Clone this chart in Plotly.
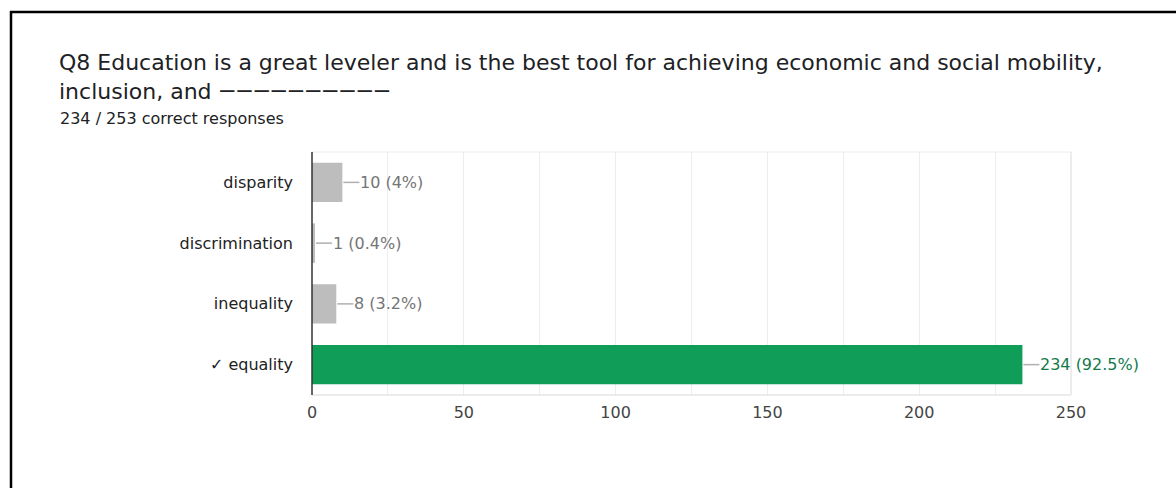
import plotly.graph_objects as go

# Survey answer counts for Q8
categories = ["disparity", "discrimination", "inequality", "✓ equality"]
counts = [10, 1, 8, 234]
percent_labels = ["10 (4%)", "1 (0.4%)", "8 (3.2%)", "234 (92.5%)"]
is_correct = [False, False, False, True]
x_ticks = [0, 50, 100, 150, 200, 250]

W, H = 1176, 488
GREEN = "#0f9d58"
GRAY_BAR = "#bdbdbd"
CHART_FONT = "DejaVu Sans, Liberation Sans, Arial, sans-serif"
TITLE_FONT = "DejaVu Sans, Roboto, sans-serif"

# plot area in pixels
px_left, px_right = 312, 1071
px_top, px_bottom = 152, 395


def px(x):
    return x / W


def py(y):
    return 1 - y / H


bar_colors = [GREEN if c else GRAY_BAR for c in is_correct]

fig = go.Figure(
    go.Bar(
        x=counts,
        y=categories,
        orientation="h",
        marker=dict(color=bar_colors, line=dict(width=0)),
        width=0.65,
        hoverinfo="skip",
    )
)

shapes = []
annotations = []
for cat, val, lab, ok in zip(categories, counts, percent_labels, is_correct):
    # short leader line from the end of the bar to the label
    shapes.append(
        dict(
            type="line",
            xref="x",
            yref="y",
            xsizemode="pixel",
            xanchor=val,
            x0=1,
            x1=17,
            y0=cat,
            y1=cat,
            line=dict(color="#b0b0b0", width=1.5),
            layer="above",
        )
    )
    annotations.append(
        dict(
            x=val,
            y=cat,
            xref="x",
            yref="y",
            text=lab,
            showarrow=False,
            xanchor="left",
            xshift=16,
            font=dict(
                family=CHART_FONT,
                size=16,
                color="#137a4c" if ok else "#757575",
            ),
        )
    )

# outer frame: top and left dark rules
shapes.append(
    dict(type="line", xref="paper", yref="paper",
         x0=px(10), x1=1, y0=py(12), y1=py(12),
         line=dict(color="#000000", width=2.5))
)
shapes.append(
    dict(type="line", xref="paper", yref="paper",
         x0=px(11), x1=px(11), y0=py(11), y1=0,
         line=dict(color="#000000", width=2.5))
)
# light frame around the plot area (top, right, bottom)
shapes.append(
    dict(type="line", xref="paper", yref="paper",
         x0=px(px_left), x1=px(px_right), y0=py(px_top), y1=py(px_top),
         line=dict(color="#ececec", width=1))
)
shapes.append(
    dict(type="line", xref="paper", yref="paper",
         x0=px(px_right), x1=px(px_right), y0=py(px_top), y1=py(px_bottom),
         line=dict(color="#e6e6e6", width=1.5))
)
shapes.append(
    dict(type="line", xref="paper", yref="paper",
         x0=px(px_left), x1=px(px_right), y0=py(px_bottom), y1=py(px_bottom),
         line=dict(color="#e6e6e6", width=1.5))
)

# title block
annotations += [
    dict(x=px(57), y=py(63), xref="paper", yref="paper",
         text="Q8 Education is a great leveler and is the best tool for achieving economic and social mobility,",
         showarrow=False, xanchor="left", yanchor="middle",
         font=dict(family=TITLE_FONT, size=22, color="#202124")),
    dict(x=px(57), y=py(91), xref="paper", yref="paper",
         text="inclusion, and <span style=\"font-family:Roboto\">——————————</span>",
         showarrow=False, xanchor="left", yanchor="middle",
         font=dict(family=TITLE_FONT, size=22, color="#202124")),
    dict(x=px(58), y=py(118), xref="paper", yref="paper",
         text="234 / 253 correct responses",
         showarrow=False, xanchor="left", yanchor="middle",
         font=dict(family=TITLE_FONT, size=16, color="#202124")),
]

fig.update_layout(
    width=W,
    height=H,
    margin=dict(l=0, r=0, t=0, b=0, autoexpand=False),
    paper_bgcolor="white",
    plot_bgcolor="white",
    showlegend=False,
    bargap=0.35,
    shapes=shapes,
    annotations=annotations,
    xaxis=dict(
        domain=[px(px_left), px(px_right)],
        range=[0, 250],
        tickvals=x_ticks,
        ticktext=[str(t) for t in x_ticks],
        showgrid=False,
        zeroline=False,
        showline=False,
        ticks="",
        ticklabelstandoff=6,
        tickfont=dict(family=CHART_FONT, size=16, color="#444444"),
        minor=dict(dtick=25, tick0=0, showgrid=True, gridcolor="#ededed", gridwidth=1),
        automargin=False,
        fixedrange=True,
    ),
    yaxis=dict(
        domain=[py(px_bottom), py(px_top)],
        categoryorder="array",
        categoryarray=categories[::-1],
        range=[-0.5, 3.5],
        showgrid=False,
        zeroline=False,
        showline=False,
        ticks="",
        ticklabelstandoff=18,
        tickfont=dict(family=CHART_FONT, size=16, color="#222222"),
        automargin=False,
        fixedrange=True,
    ),
)

# dark baseline at x = 0 drawn over the bars
fig.add_shape(
    type="line", xref="paper", yref="paper",
    x0=px(px_left), x1=px(px_left), y0=py(px_top), y1=py(px_bottom),
    line=dict(color="#333333", width=1.5), layer="above",
)

fig.write_html("out.html")
